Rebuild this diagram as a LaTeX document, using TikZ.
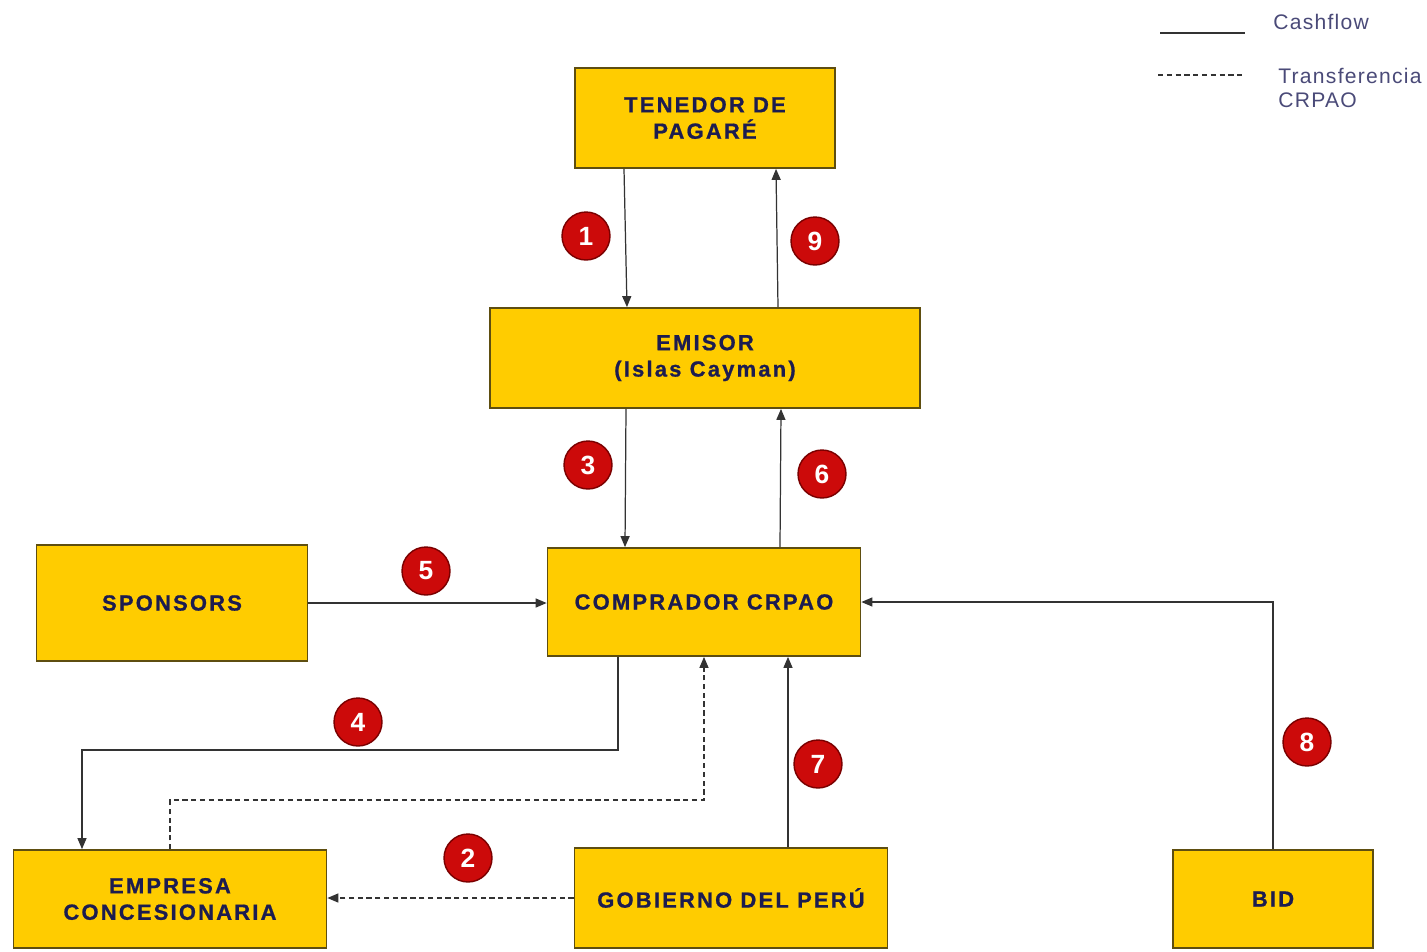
\documentclass[tikz,border=0pt]{standalone}
\usepackage{fontspec}
\setmainfont{Liberation Sans}
\newfontfamily\boxfont[LetterSpace=10,FakeBold=0.8]{Liberation Sans Bold}
\newfontfamily\legendfont[LetterSpace=6]{Liberation Sans}
\usetikzlibrary{positioning,calc,arrows.meta}
\definecolor{BoxFill}{HTML}{FFCC00}
\definecolor{BoxLine}{HTML}{5E4E10}
\definecolor{BoxText}{HTML}{1C1C50}
\definecolor{BadgeRed}{HTML}{CC0A0A}
\definecolor{BadgeLine}{HTML}{7A0000}
\definecolor{FlowGray}{HTML}{333333}
\definecolor{LegendText}{HTML}{4A4A78}

\begin{document}
\begin{tikzpicture}[x=0.02cm, y=-0.02cm,
  entity/.style={rectangle, draw=BoxLine, fill=BoxFill, line width=1pt,
                 text=BoxText, font=\fontsize{12.5}{15}\boxfont,
                 align=center, inner sep=0pt},
  badge/.style={circle, draw=BadgeLine, fill=BadgeRed, line width=0.8pt,
                text=white, font=\fontsize{15}{15}\selectfont\bfseries,
                minimum size=0.96cm, inner sep=0pt},
  flow/.style={-{Triangle[length=2.2mm,width=1.8mm]}, line width=0.7pt, draw=FlowGray},
  crpao/.style={flow, dash pattern=on 3pt off 2pt},
  legend/.style={font=\fontsize{12}{14}\legendfont, text=LegendText,
                 align=left, anchor=west, inner sep=0pt},
]
  \useasboundingbox (0,0) rectangle (1427,951);

  % Entities
  \node[entity, minimum width=5.2cm, minimum height=2cm] (tenedor) at (705,118) {TENEDOR DE\\PAGARÉ};
  \node[entity, minimum width=8.6cm, minimum height=2cm] (emisor) at (705,358) {EMISOR\\(Islas Cayman)};
  \node[entity, minimum width=5.42cm, minimum height=2.32cm] (sponsors) at (172,603) {SPONSORS};
  \node[entity, minimum width=6.26cm, minimum height=2.16cm] (comprador) at (704,602) {COMPRADOR CRPAO};
  \node[entity, minimum width=6.26cm, minimum height=1.96cm] (empresa) at (170,899) {EMPRESA\\CONCESIONARIA};
  \node[entity, minimum width=6.26cm, minimum height=2cm] (gobierno) at (731,898) {GOBIERNO DEL PERÚ};
  \node[entity, minimum width=4cm, minimum height=1.96cm] (bid) at (1273,899) {BID};

  % Cashflow connectors
  \draw[flow] ($(tenedor.south)+(-81,0)$) -- ($(emisor.north)+(-78,0)$);
  \draw[flow] ($(emisor.north)+(73,0)$) -- ($(tenedor.south)+(71,0)$);
  \draw[flow] ($(emisor.south)+(-79,0)$) -- ($(comprador.north)+(-79,0)$);
  \draw[flow] ($(comprador.north)+(76,0)$) -- ($(emisor.south)+(76,0)$);
  \draw[flow] (sponsors.east) -- (sponsors.east -| comprador.west);
  \coordinate (split4) at (82,750);
  \draw[flow] ($(comprador.south)+(-86,0)$) |- (split4) -- (split4 |- empresa.north);
  \draw[flow] ($(gobierno.north)+(57,0)$) -- ($(comprador.south)+(84,0)$);
  \draw[flow] (bid.north) |- (comprador.east);

  % CRPAO transfers
  \coordinate (split2) at (0,800);
  \draw[crpao] (empresa.north) -- (empresa.north |- split2) -| (comprador.south);
  \draw[crpao] (gobierno.west) -- (gobierno.west -| empresa.east);

  % Step badges
  \node[badge] (b1) at (586,236) {1};
  \node[badge] (b2) at (468,858) {2};
  \node[badge] (b3) at (588,465) {3};
  \node[badge] (b4) at (358,722) {4};
  \node[badge] (b5) at (426,571) {5};
  \node[badge] (b6) at (822,474) {6};
  \node[badge] (b7) at (818,764) {7};
  \node[badge] (b8) at (1307,742) {8};
  \node[badge] (b9) at (815,241) {9};

  % Legend
  \coordinate (cashA) at (1160,33);
  \coordinate (cashB) at (1245,33);
  \draw[line width=0.7pt, draw=FlowGray] (cashA) -- (cashB);
  \node[legend] (cashtxt) at (1273,22) {Cashflow};
  \coordinate (transA) at (1158,75);
  \coordinate (transB) at (1243,75);
  \draw[line width=0.7pt, draw=FlowGray, dash pattern=on 3pt off 2pt] (transA) -- (transB);
  \node[legend] (transtxt) at (1278,88) {Transferencia\\CRPAO};
\end{tikzpicture}
\end{document}
